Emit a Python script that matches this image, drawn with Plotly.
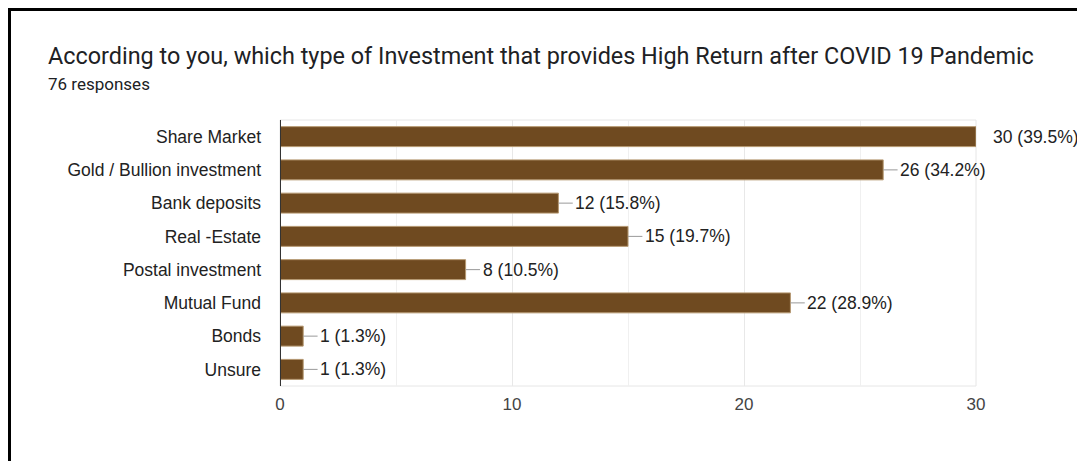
import plotly.graph_objects as go

# Survey results
categories = ["Share Market", "Gold / Bullion investment", "Bank deposits", "Real -Estate",
              "Postal investment", "Mutual Fund", "Bonds", "Unsure"]
counts = [30, 26, 12, 15, 8, 22, 1, 1]
percents = [39.5, 34.2, 15.8, 19.7, 10.5, 28.9, 1.3, 1.3]
x_ticks = [0, 10, 20, 30]

title_text = "According to you, which type of Investment that provides High Return after COVID 19 Pandemic"
subtitle_text = "76 responses"

BAR = "#6f4a20"
W, H = 1077, 461
L, R, T, B = 280, 976, 120, 386
SANS = "Liberation Sans, Arial"

fig = go.Figure()
fig.add_trace(go.Bar(
    x=counts, y=categories, orientation="h",
    marker=dict(color=BAR, line=dict(color="#b59870", width=1)),
    width=0.6, hoverinfo="skip",
))

annotations = []
shapes = []
max_count = max(counts)
for c, p, cat in zip(counts, percents, categories):
    if c != max_count:
        shapes.append(dict(type="line", xref="x", yref="y", x0=c, x1=c + 0.62,
                           y0=cat, y1=cat, line=dict(color="#999999", width=1), layer="above"))
    annotations.append(dict(x=c, y=cat, xref="x", yref="y", text=f"{c} ({p}%)",
                            showarrow=False, xanchor="left", xshift=15,
                            font=dict(family=SANS, size=17.5, color="#222222")))

# title block
annotations.append(dict(x=46, y=H - 56, xref="paper", yref="paper", text=title_text,
                        showarrow=False, xanchor="left", yanchor="middle",
                        font=dict(family="Roboto", size=23.4, color="#202124")))
annotations.append(dict(x=46, y=H - 84, xref="paper", yref="paper", text=subtitle_text,
                        showarrow=False, xanchor="left", yanchor="middle",
                        font=dict(family="Roboto", size=17, color="#202124")))

# convert pixel-positioned paper annotations to paper fractions
for a in annotations:
    if a["xref"] == "paper":
        a["x"] = (a["x"] - L) / (R - L)
        a["y"] = (a["y"] - (H - B)) / (B - T)

# outer frame (black, left and top)
shapes.append(dict(type="line", xref="paper", yref="paper",
                   x0=(9.5 - L) / (R - L), x1=(9.5 - L) / (R - L),
                   y0=(0 - (H - B)) / (B - T), y1=(H - 9.5 - (H - B)) / (B - T),
                   line=dict(color="black", width=3)))
shapes.append(dict(type="line", xref="paper", yref="paper",
                   x0=(8 - L) / (R - L), x1=(W + 5 - L) / (R - L),
                   y0=(H - 9.5 - (H - B)) / (B - T), y1=(H - 9.5 - (H - B)) / (B - T),
                   line=dict(color="black", width=3)))
# light plot-area frame
shapes.append(dict(type="rect", xref="paper", yref="paper", x0=0, x1=1, y0=0, y1=1,
                   line=dict(color="#e6e6e6", width=1), layer="below"))
# dark baseline at zero
shapes.append(dict(type="line", xref="x", yref="paper", x0=0, x1=0, y0=0, y1=1,
                   line=dict(color="#333333", width=2), layer="above"))

fig.update_layout(
    width=W, height=H,
    margin=dict(l=L, r=W - R, t=T, b=H - B, pad=0),
    paper_bgcolor="white", plot_bgcolor="white",
    showlegend=False,
    annotations=annotations, shapes=shapes,
    xaxis=dict(range=[0, 30], tickvals=x_ticks, showgrid=True, gridcolor="#e8e8e8",
               zeroline=False, showline=False, ticks="",
               minor=dict(dtick=5, showgrid=True, gridcolor="#f0f0f0"),
               tickfont=dict(family=SANS, size=17, color="#444444"),
               ticklabelstandoff=6),
    yaxis=dict(autorange="reversed", showgrid=False, zeroline=False, showline=False,
               ticks="", ticklabelstandoff=18,
               tickfont=dict(family=SANS, size=17.5, color="#222222")),
)

fig.write_html("out.html")
